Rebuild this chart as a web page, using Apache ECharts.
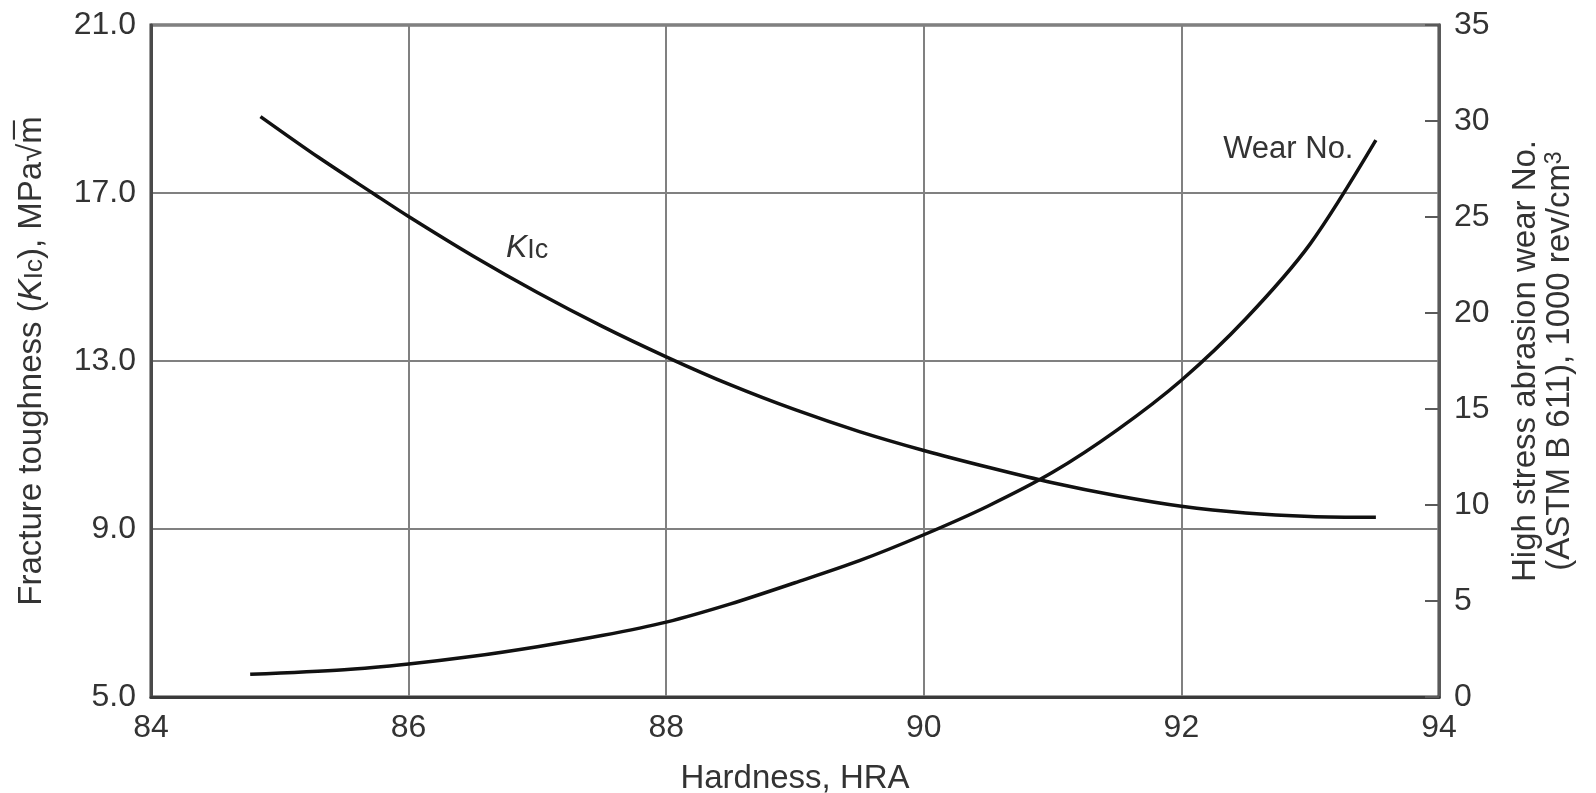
<!DOCTYPE html>
<html>
<head>
<meta charset="utf-8">
<title>Fracture toughness and wear number vs hardness</title>
<script src="https://cdn.jsdelivr.net/npm/echarts@6/dist/echarts.min.js"></script>
<style>
  html, body { margin: 0; padding: 0; background: #ffffff; }
  #chart { width: 1596px; height: 793px; }
</style>
</head>
<body>
<div id="chart"></div>
<script>
// Fracture toughness K_Ic (left axis, MPa·√m) against hardness (HRA)
const kicHardness = [84.85, 85.3, 85.72, 86.0, 86.5, 87.0, 87.5, 88.0, 88.5, 89.0, 89.5, 90.0, 90.5, 91.0, 91.5, 92.0, 92.5, 93.0, 93.51];
const kicValues   = [18.82, 17.85, 17.0, 16.44, 15.5, 14.63, 13.83, 13.1, 12.43, 11.84, 11.32, 10.87, 10.47, 10.1, 9.79, 9.54, 9.38, 9.3, 9.28];

// High stress abrasion wear number (right axis, 1000 rev/cm³) against hardness (HRA)
const wearHardness = [84.77, 85.5, 86.0, 86.5, 87.0, 87.5, 88.0, 88.5, 89.0, 89.5, 90.0, 90.5, 91.0, 91.5, 92.0, 92.5, 93.0, 93.51];
const wearValues   = [1.18, 1.42, 1.72, 2.12, 2.62, 3.2, 3.9, 4.85, 5.95, 7.1, 8.45, 9.95, 11.7, 13.9, 16.5, 19.7, 23.6, 29.0];

// Axis ranges and ticks
const hardnessTicks = [84, 86, 88, 90, 92, 94];
const kicTicks = [5, 9, 13, 17, 21];
const wearTicks = [0, 5, 10, 15, 20, 25, 30, 35];

// Curve labels placed in data coordinates
const kicLabelAt = [86.92, 15.7];
const wearLabelAt = [92.83, 28.5];

const FONT = '"Liberation Sans", Arial, Helvetica, sans-serif';
const TEXT = '#333333';

function pairs(xs, ys) { return xs.map((x, i) => [x, ys[i]]); }

const chart = echarts.init(document.getElementById('chart'), null, { renderer: 'canvas' });

chart.setOption({
  backgroundColor: '#ffffff',
  animation: false,
  textStyle: { fontFamily: FONT, color: TEXT },
  grid: {
    left: 151, right: 157, top: 25, bottom: 96,
    outerBoundsMode: 'none',
    containLabel: false,
    show: true, borderColor: '#3a3a3a', borderWidth: 3, backgroundColor: 'transparent'
  },
  xAxis: {
    type: 'value',
    min: hardnessTicks[0], max: hardnessTicks[hardnessTicks.length - 1],
    interval: hardnessTicks[1] - hardnessTicks[0],
    name: 'Hardness, HRA',
    nameLocation: 'middle',
    nameGap: 65,
    nameTextStyle: { fontSize: 33, color: TEXT, fontFamily: FONT },
    axisLine: { lineStyle: { color: '#3a3a3a', width: 3 } },
    axisTick: { show: false },
    axisLabel: { fontSize: 32, color: TEXT, margin: 15, fontFamily: FONT },
    splitLine: { show: true, lineStyle: { color: '#808080', width: 2 } }
  },
  yAxis: [
    {
      type: 'value', position: 'left',
      min: kicTicks[0], max: kicTicks[kicTicks.length - 1],
      interval: kicTicks[1] - kicTicks[0],
      name: 'Fracture toughness ({k|K}{sub|Ic}), MPa√m\u0305',
      nameLocation: 'middle',
      nameRotate: 90,
      nameGap: 103,
      nameTextStyle: {
        fontSize: 33, color: TEXT, fontFamily: FONT,
        rich: {
          k: { fontSize: 33, fontStyle: 'italic', color: TEXT, fontFamily: FONT },
          sub: { fontSize: 26, color: TEXT, fontFamily: FONT, verticalAlign: 'bottom', lineHeight: 10 }
        }
      },
      axisLine: { show: true, lineStyle: { color: '#4a4a4a', width: 3 } },
      axisTick: { show: false },
      axisLabel: {
        fontSize: 32, color: TEXT, margin: 15, fontFamily: FONT,
        formatter: v => v.toFixed(1)
      },
      splitLine: { show: true, lineStyle: { color: '#808080', width: 2 } }
    },
    {
      type: 'value', position: 'right',
      min: wearTicks[0], max: wearTicks[wearTicks.length - 1],
      interval: wearTicks[1] - wearTicks[0],
      name: 'High stress abrasion wear No.\n(ASTM B 611), 1000 rev/cm{sup|3}',
      nameLocation: 'middle',
      nameRotate: 90,
      nameGap: 70,
      nameTextStyle: {
        fontSize: 33, color: TEXT, fontFamily: FONT, lineHeight: 34, align: 'center',
        rich: {
          sup: { fontSize: 23, color: TEXT, fontFamily: FONT, verticalAlign: 'top', lineHeight: 14 }
        }
      },
      axisLine: { show: true, lineStyle: { color: '#5a5a5a', width: 3 } },
      axisTick: { show: true, inside: true, length: 14, lineStyle: { color: '#5a5a5a', width: 2 } },
      axisLabel: { fontSize: 32, color: TEXT, margin: 15, fontFamily: FONT },
      splitLine: { show: false }
    }
  ],
  series: [
    {
      name: 'KIc',
      type: 'line',
      yAxisIndex: 0,
      data: pairs(kicHardness, kicValues),
      smooth: 0.3,
      showSymbol: false,
      symbol: 'none',
      lineStyle: { color: '#111111', width: 3.5 },
      markPoint: {
        symbol: 'circle', symbolSize: 0,
        silent: true,
        data: [{ coord: kicLabelAt }],
        label: {
          show: true, position: 'inside',
          formatter: '{k|K}{sub|Ic}',
          rich: {
            k: { fontSize: 32, fontStyle: 'italic', color: TEXT, fontFamily: FONT },
            sub: { fontSize: 27, color: TEXT, fontFamily: FONT, verticalAlign: 'bottom', lineHeight: 8 }
          }
        }
      }
    },
    {
      name: 'Wear No.',
      type: 'line',
      yAxisIndex: 1,
      data: pairs(wearHardness, wearValues),
      smooth: 0.3,
      showSymbol: false,
      symbol: 'none',
      lineStyle: { color: '#111111', width: 3.5 },
      markPoint: {
        symbol: 'circle', symbolSize: 0,
        silent: true,
        data: [{ coord: wearLabelAt }],
        label: {
          show: true, position: 'inside',
          formatter: 'Wear No.',
          fontSize: 31, color: TEXT, fontFamily: FONT
        }
      }
    }
  ]
});
</script>
</body>
</html>
